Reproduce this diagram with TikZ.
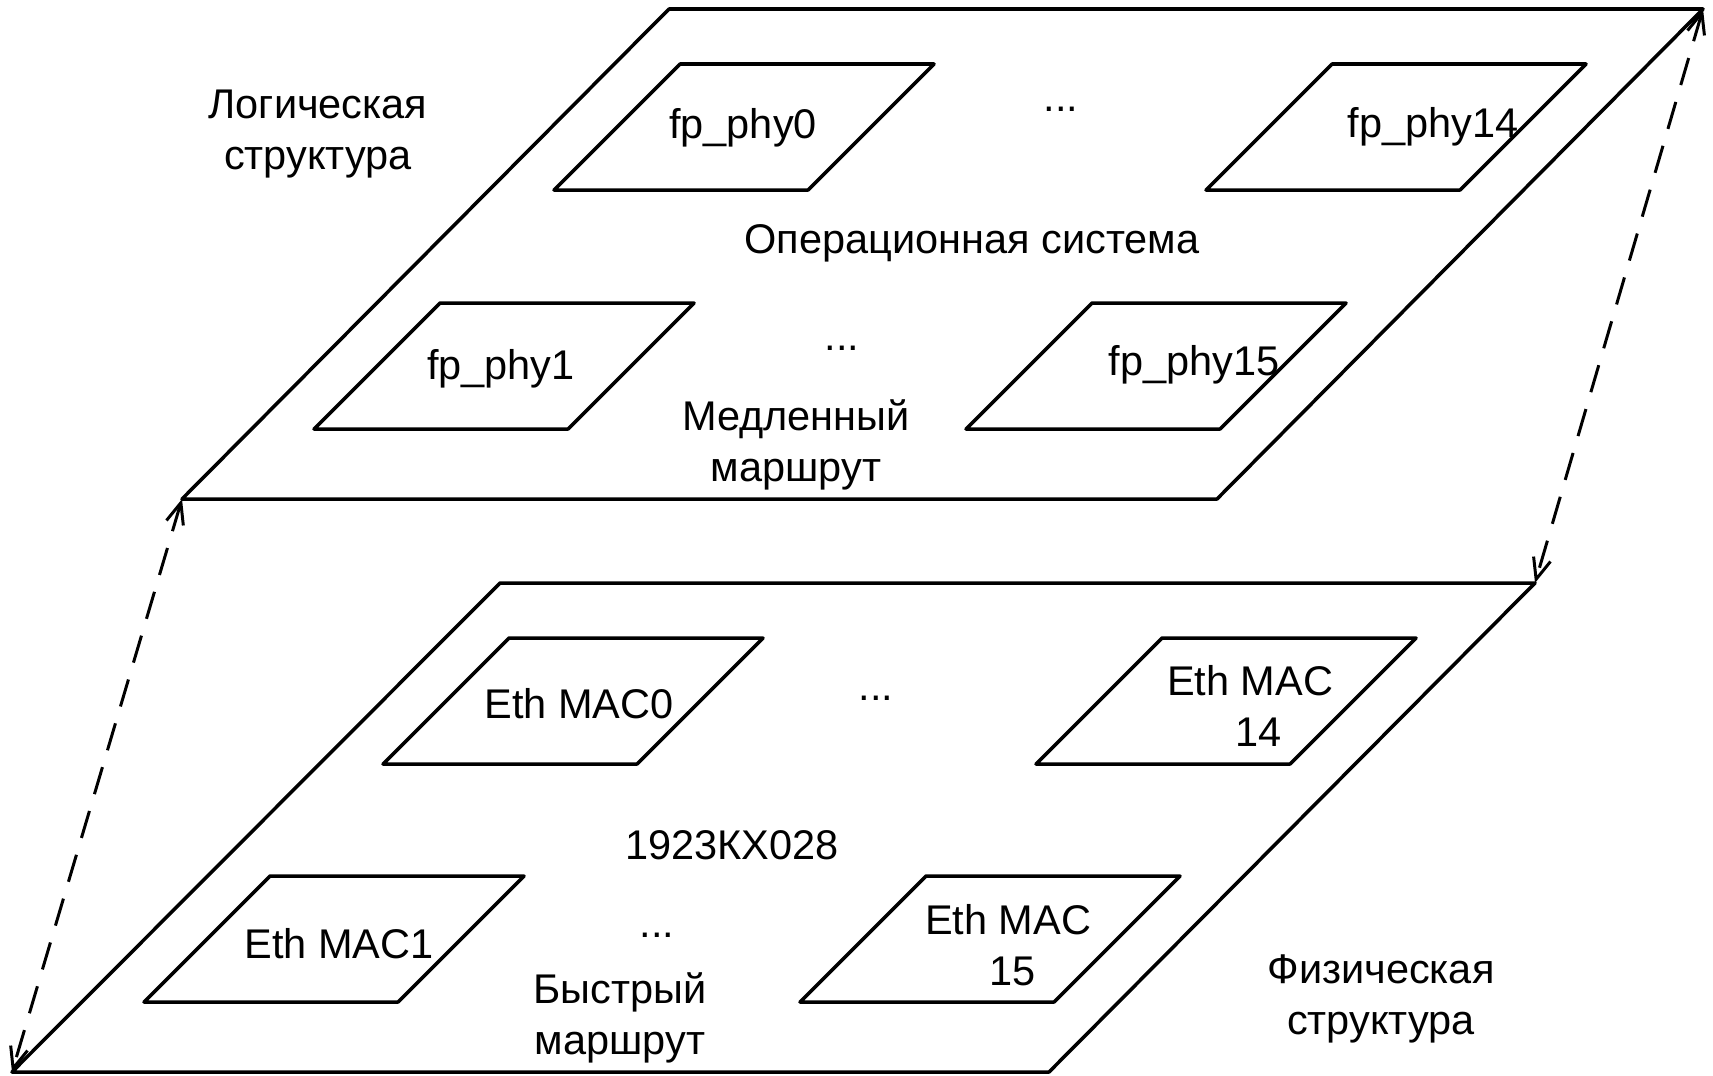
\documentclass[tikz,border=0pt]{standalone}
\usepackage{fontspec}
\setmainfont{Liberation Sans}
\usetikzlibrary{arrows.meta}

\begin{document}
\begin{tikzpicture}[
    x=0.01cm, y=-0.01cm,
    every node/.style={font=\fontsize{11.8}{14.3}\selectfont,align=center,inner sep=0pt},
    plane/.style={draw,line width=1pt,line join=round},
    port/.style={draw,line width=1pt,line join=round},
    svyaz/.style={{Straight Barb[length=6pt,width=5pt]}-{Straight Barb[length=6pt,width=5pt]},
      dash pattern=on 8pt off 5pt,line width=0.85pt}
  ]
    \useasboundingbox (0,0) rectangle (1713,1075);

    % plane corners
    \coordinate (log sw) at (182,499);
    \coordinate (log se) at (1217,499);
    \coordinate (log ne) at (1703,9);
    \coordinate (log nw) at (669,9);
    \coordinate (fiz sw) at (12,1072);
    \coordinate (fiz se) at (1049,1072);
    \coordinate (fiz ne) at (1535,583);
    \coordinate (fiz nw) at (500,583);

    \draw[plane] (log sw) -- (log se) -- (log ne) -- (log nw) -- cycle;
    \draw[plane] (fiz sw) -- (fiz se) -- (fiz ne) -- (fiz nw) -- cycle;

    % ports
    \foreach \px/\py in {554/190,1206/190,314/429,966/429,383/764,1036/764,144/1002,800/1002}
      \draw[port] (\px,\py) -- ++(254,0) -- ++(126,-126) -- ++(-254,0) -- cycle;

    \node (phy0) at (743,128) {fp\_phy0};
    \node (phy14) at (1433,127) {fp\_phy14};
    \node (phy1) at (501,369) {fp\_phy1};
    \node (phy15) at (1194,365) {fp\_phy15};
    \node (mac0) at (579,704) {Eth MAC0};
    \node (mac14) at (1250,706) {Eth MAC\\\hspace{0.4em}14};
    \node (mac1) at (339,944) {Eth MAC1};
    \node (mac15) at (1008,945) {Eth MAC\\\hspace{0.2em}15};

    \node[anchor=base] (tochki1) at (1061,111) {...};
    \node[anchor=base] (tochki2) at (842,350) {...};
    \node[anchor=base] (tochki3) at (876,700) {...};
    \node[anchor=base] (tochki4) at (657,937) {...};

    \node (logika) at (318,134) {Логическая\\структура};
    \node (os) at (972,243) {Операционная система};
    \node (medl) at (796,445) {Медленный\\маршрут};
    \node (chip) at (732,845) {1923КХ028};
    \node (bystr) at (620,1018) {Быстрый\\маршрут};
    \node (fizika) at (1381,999) {Физическая\\структура};

    \draw[svyaz] (log sw) -- (fiz sw);
    \draw[svyaz] (log ne) -- (fiz ne);
\end{tikzpicture}
\end{document}
